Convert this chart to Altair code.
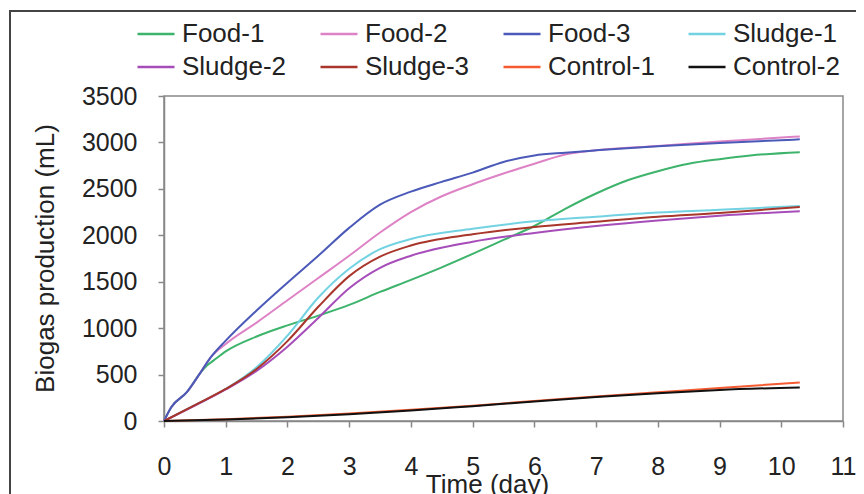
import altair as alt
import pandas as pd

series = ["Food-1", "Food-2", "Food-3", "Sludge-1", "Sludge-2", "Sludge-3", "Control-1", "Control-2"]
colors = ["#3db36b", "#de82c6", "#4b5ab8", "#72d2e2", "#a64db9", "#a8362b", "#f55a30", "#111111"]

food1_days = [0, 0.12, 0.37, 0.58, 0.7, 0.8, 1, 1.5, 2, 2.5, 3, 3.5, 4, 4.5, 5, 5.5, 6, 6.5, 7, 7.5, 8, 8.5, 9, 9.5, 10.3]
food1_vals = [0, 150, 310, 510, 600, 650, 750, 910, 1030, 1135, 1250, 1390, 1520, 1655, 1800, 1950, 2100, 2285, 2450, 2590, 2690, 2770, 2820, 2860, 2895]

food_days = [0, 0.12, 0.37, 0.58, 0.75, 1, 1.5, 2, 2.5, 3, 3.5, 4, 4.5, 5, 5.5, 6, 6.5, 7, 8, 9, 10.3]
food2_vals = [0, 150, 310, 510, 680, 830, 1060, 1300, 1540, 1780, 2030, 2250, 2420, 2550, 2665, 2770, 2870, 2915, 2962, 3010, 3065]
food3_vals = [0, 150, 310, 510, 680, 865, 1190, 1490, 1780, 2080, 2330, 2470, 2575, 2675, 2790, 2860, 2890, 2915, 2958, 2995, 3033]

sludge_days = [0, 0.5, 1, 1.5, 2, 2.5, 3, 3.5, 4, 5, 6, 7, 8, 9, 10.3]
sludge1_vals = [0, 170, 345, 580, 920, 1330, 1640, 1850, 1960, 2070, 2150, 2200, 2245, 2275, 2315]
sludge2_vals = [0, 165, 340, 540, 800, 1110, 1430, 1650, 1780, 1930, 2025, 2100, 2160, 2210, 2260]
sludge3_vals = [0, 170, 345, 560, 860, 1230, 1560, 1770, 1890, 2010, 2090, 2145, 2200, 2240, 2305]

control_days = [0, 1, 2, 3, 4, 5, 6, 7, 8, 9, 10.3]
control1_vals = [0, 20, 45, 80, 120, 165, 215, 265, 310, 355, 415]
control2_vals = [0, 15, 40, 72, 112, 160, 210, 258, 300, 335, 362]

x_ticks = list(range(0, 12))
y_ticks = list(range(0, 3501, 500))

groups = [
    ("Food-1", food1_days, food1_vals),
    ("Food-2", food_days, food2_vals),
    ("Food-3", food_days, food3_vals),
    ("Sludge-1", sludge_days, sludge1_vals),
    ("Sludge-2", sludge_days, sludge2_vals),
    ("Sludge-3", sludge_days, sludge3_vals),
    ("Control-1", control_days, control1_vals),
    ("Control-2", control_days, control2_vals),
]
rows = []
for name, ds, vs in groups:
    for d, v in zip(ds, vs):
        rows.append({"series": name, "day": d, "mL": v})
df = pd.DataFrame(rows)

FONT = "Liberation Sans"

lines = alt.Chart(df).mark_line(interpolate="monotone", strokeWidth=2).encode(
    x=alt.X("day:Q", scale=alt.Scale(domain=[0, 11], nice=False),
            axis=alt.Axis(values=x_ticks, title="Time (day)", format="d",
                          labelFontSize=25, labelPadding=27, tickSize=6, labelFlush=False,
                          titleFontSize=26, titleFontWeight="normal",
                          titleX=323, titleY=71, titleBaseline="alphabetic",
                          titleAlign="center", grid=False)),
    y=alt.Y("mL:Q", scale=alt.Scale(domain=[0, 3500], nice=False),
            axis=alt.Axis(values=y_ticks, title="Biogas production (mL)", format="d",
                          labelFontSize=25, labelPadding=21, tickSize=6, labelFlush=False,
                          titleFontSize=26, titleFontWeight="normal",
                          titleAngle=-90, titleX=-119, titleY=162,
                          titleBaseline="middle", titleAlign="center", grid=False)),
    color=alt.Color("series:N", sort=series,
                    scale=alt.Scale(domain=series, range=colors),
                    legend=alt.Legend(title=None, orient="none", legendX=-28, legendY=-82,
                                      direction="horizontal",
                                      columns=4, columnPadding=28, rowPadding=0,
                                      symbolType="stroke", symbolSize=1369,
                                      symbolStrokeWidth=2.5, labelOffset=6,
                                      labelFontSize=26, labelFont=FONT, labelColor="#222",
                                      padding=0)),
    detail="series:N",
)

frame_df = pd.DataFrame({"k": [0]})
frame_left = alt.Chart(frame_df).mark_rule(color="#444", strokeWidth=2).encode(
    x=alt.value(-154), y=alt.value(-85), y2=alt.value(398))
frame_top = alt.Chart(frame_df).mark_rule(color="#444", strokeWidth=2).encode(
    x=alt.value(-155), x2=alt.value(692), y=alt.value(-85))

chart = alt.layer(lines, frame_left, frame_top).properties(
    width=679, height=325,
    autosize=alt.AutoSizeParams(type="none"),
    padding={"left": 156, "top": 88, "right": 13, "bottom": 73},
).configure(font=FONT).configure_view(
    stroke="#888", strokeWidth=1.5
).configure_axis(
    domainColor="#888", tickColor="#888", domainWidth=1.5, tickWidth=1.5,
    labelColor="#222", titleColor="#222", labelFont=FONT, titleFont=FONT
)

chart.save("out.html", embed_options={"renderer": "svg", "actions": False})
